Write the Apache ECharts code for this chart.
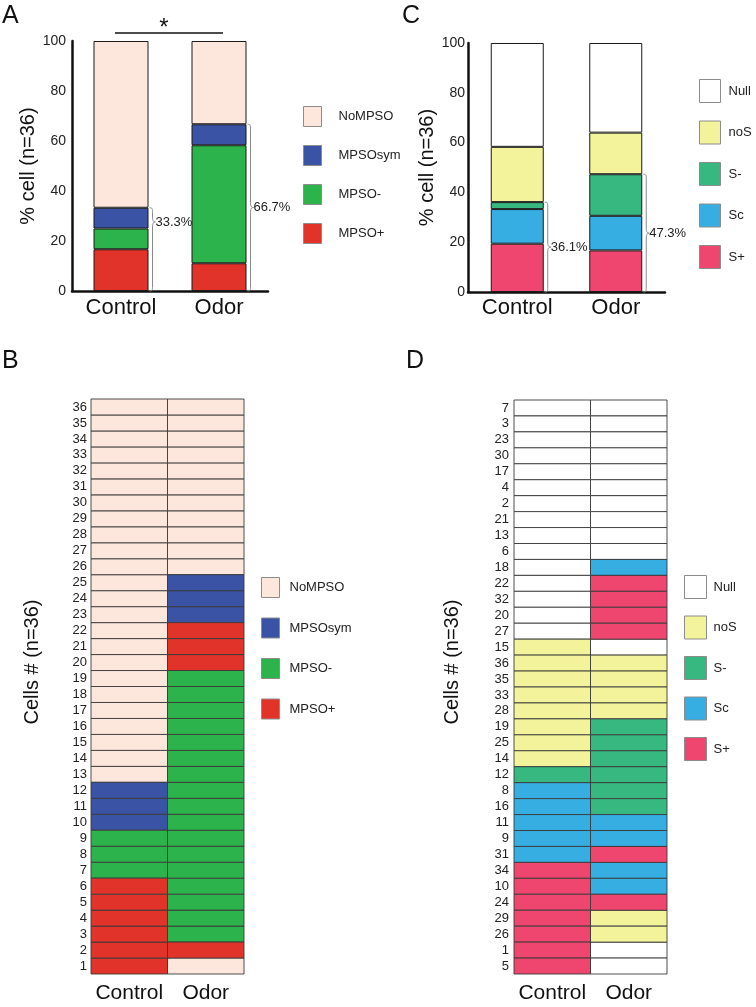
<!DOCTYPE html>
<html><head><meta charset="utf-8">
<script src="https://cdn.jsdelivr.net/npm/echarts@6/dist/echarts.min.js"></script>
<style>html,body{margin:0;padding:0;background:#fff}#c{width:756px;height:1007px}</style>
</head><body><div id="c"></div>
<script>
// ---------- DATA ----------
const groups = ['Control', 'Odor'];

// Panel A (stack order bottom -> top)
const catsA = ['MPSO+', 'MPSO-', 'MPSOsym', 'NoMPSO'];
const colorsA = ['#E2332A', '#2DB34B', '#3A53A5', '#FDE6DC'];
const pctA_control = [16.7, 8.3, 8.3, 66.7];
const pctA_odor = [11.1, 47.2, 8.4, 33.3];
const braceA_top = [33.3, 66.7];
const braceA_tip = [27.6, 33.4];
const braceA_labels = ['33.3%', '66.7%'];
const legendA = ['NoMPSO', 'MPSOsym', 'MPSO-', 'MPSO+'];

// Panel C (stack order bottom -> top)
const catsC = ['S+', 'Sc', 'S-', 'noS', 'Null'];
const colorsC = ['#EE466E', '#36AEE2', '#36B880', '#F3F39B', '#FFFFFF'];
const pctC_control = [19.4, 13.9, 2.8, 22.2, 41.7];
const pctC_odor = [16.7, 13.9, 16.7, 16.7, 36.0];
const braceC_top = [36.1, 47.3];
const braceC_tip = [18.05, 23.65];
const braceC_labels = ['36.1%', '47.3%'];
const legendC = ['Null', 'noS', 'S-', 'Sc', 'S+'];

// Panel B: cells 1..36 (bottom -> top)
const cellsB = ['1','2','3','4','5','6','7','8','9','10','11','12','13','14','15','16','17','18',
  '19','20','21','22','23','24','25','26','27','28','29','30','31','32','33','34','35','36'];
const B_control = ['MPSO+','MPSO+','MPSO+','MPSO+','MPSO+','MPSO+','MPSO-','MPSO-','MPSO-',
  'MPSOsym','MPSOsym','MPSOsym','NoMPSO','NoMPSO','NoMPSO','NoMPSO','NoMPSO','NoMPSO',
  'NoMPSO','NoMPSO','NoMPSO','NoMPSO','NoMPSO','NoMPSO','NoMPSO','NoMPSO','NoMPSO',
  'NoMPSO','NoMPSO','NoMPSO','NoMPSO','NoMPSO','NoMPSO','NoMPSO','NoMPSO','NoMPSO'];
const B_odor = ['NoMPSO','MPSO+','MPSO-','MPSO-','MPSO-','MPSO-','MPSO-','MPSO-','MPSO-',
  'MPSO-','MPSO-','MPSO-','MPSO-','MPSO-','MPSO-','MPSO-','MPSO-','MPSO-','MPSO-',
  'MPSO+','MPSO+','MPSO+','MPSOsym','MPSOsym','MPSOsym','NoMPSO','NoMPSO','NoMPSO',
  'NoMPSO','NoMPSO','NoMPSO','NoMPSO','NoMPSO','NoMPSO','NoMPSO','NoMPSO'];

// Panel D: rows top -> bottom
const cellsD = ['7','3','23','30','17','4','2','21','13','6','18','22','32','20','27','15','36','35',
  '33','28','19','25','14','12','8','16','11','9','31','34','10','24','29','26','1','5'];
const D_control = ['Null','Null','Null','Null','Null','Null','Null','Null','Null','Null','Null',
  'Null','Null','Null','Null','noS','noS','noS','noS','noS','noS','noS','noS','S-',
  'Sc','Sc','Sc','Sc','Sc','S+','S+','S+','S+','S+','S+','S+'];
const D_odor = ['Null','Null','Null','Null','Null','Null','Null','Null','Null','Null','Sc',
  'S+','S+','S+','S+','Null','noS','noS','noS','noS','S-','S-','S-','S-','S-','S-',
  'Sc','Sc','S+','Sc','Sc','S+','noS','noS','Null','Null'];

// ---------- CHART ----------
const FONT = '"Liberation Sans", Arial, Helvetica, sans-serif';
const chart = echarts.init(document.getElementById('c'));

function braceRender(barW, labels) {
  return function (params, api) {
    const c = api.value(0), top = api.value(1), tip = api.value(2);
    const pT = api.coord([c, top]), pB = api.coord([c, 0]), pM = api.coord([c, tip]);
    const x0 = pT[0] + barW / 2 + 1;
    const yT = pT[1], yB = pB[1], yM = pM[1];
    const d = 'M' + x0 + ' ' + yT +
      ' C' + (x0 + 3) + ' ' + yT + ' ' + (x0 + 3) + ' ' + (yT + 1) + ' ' + (x0 + 3) + ' ' + (yT + 5) +
      ' L' + (x0 + 3) + ' ' + (yM - 5) +
      ' C' + (x0 + 3) + ' ' + (yM - 1) + ' ' + (x0 + 4) + ' ' + yM + ' ' + (x0 + 6) + ' ' + yM +
      ' C' + (x0 + 4) + ' ' + yM + ' ' + (x0 + 3) + ' ' + (yM + 1) + ' ' + (x0 + 3) + ' ' + (yM + 5) +
      ' L' + (x0 + 3) + ' ' + (yB - 5) +
      ' C' + (x0 + 3) + ' ' + (yB - 1) + ' ' + (x0 + 3) + ' ' + yB + ' ' + x0 + ' ' + yB;
    return {
      type: 'group', children: [
        { type: 'path', shape: { pathData: d }, style: { stroke: '#8a8a8a', fill: 'none', lineWidth: 1 } },
        { type: 'text', x: x0 + 6, y: yM, style: { text: labels[params.dataIndex], fill: '#222', font: '13px ' + FONT, align: 'left', verticalAlign: 'middle' } }
      ]
    };
  };
}

function cellRender(params, api) {
  const p = api.coord([api.value(0), api.value(1)]);
  const s = api.size([1, 1]);
  return {
    type: 'rect',
    shape: { x: p[0] - s[0] / 2, y: p[1] - s[1] / 2, width: s[0], height: s[1] },
    style: { fill: api.visual('color'), stroke: '#3a3a3a', lineWidth: 0.9 }
  };
}

function cellSeries(names, colors, cols, gi) {
  return names.map(function (nm, k) {
    const data = [];
    cols.forEach(function (arr, ci) {
      arr.forEach(function (v, ri) { if (v === nm) data.push([ci, ri]); });
    });
    return {
      type: 'custom', name: nm, xAxisIndex: gi, yAxisIndex: gi, clip: false,
      itemStyle: { color: colors[k] }, data: data, renderItem: cellRender
    };
  });
}

function barSeries(names, colors, a, b, stack, gi, w) {
  return names.map(function (nm, i) {
    return {
      type: 'bar', name: nm, stack: stack, xAxisIndex: gi, yAxisIndex: gi, barWidth: w,
      data: [a[i], b[i]],
      itemStyle: { color: colors[i], borderColor: '#1a1a1a', borderWidth: 1 }
    };
  });
}

const valueY = function (gi, gap) {
  return {
    type: 'value', gridIndex: gi, min: 0, max: 100, interval: 20,
    axisLine: { show: true, lineStyle: { color: '#111', width: 2.5 } },
    axisTick: { show: false }, splitLine: { show: false },
    axisLabel: { fontSize: 14, color: '#222', margin: gi === 0 ? 6 : 3 },
    name: '% cell (n=36)', nameLocation: 'middle', nameGap: gap,
    nameTextStyle: { fontSize: 20, color: '#111' }
  };
};
const catX = function (gi, fs, margin, line) {
  return {
    type: 'category', gridIndex: gi, data: groups,
    axisLine: { show: line, lineStyle: { color: '#111', width: 2.5 } },
    axisTick: { show: false },
    axisLabel: { interval: 0, hideOverlap: false, fontSize: fs, color: '#111', margin: margin }
  };
};
const cellY = function (gi, cats, inv, margin) {
  return {
    type: 'category', gridIndex: gi, data: cats, inverse: inv,
    axisLine: { show: false }, axisTick: { show: false },
    axisLabel: { interval: 0, fontSize: 13, color: '#222', margin: margin }
  };
};
const legendBase = function (names, left, top, w, h, gap, pad) {
  return {
    orient: 'vertical', left: left, top: top, itemWidth: w, itemHeight: h, itemGap: gap,
    padding: 0, icon: 'rect', data: names, selectedMode: false,
    itemStyle: { borderColor: '#8c8c8c', borderWidth: 1 },
    textStyle: { fontSize: 13, color: '#222', padding: [0, 0, 0, pad] }
  };
};

const option = {
  animation: false,
  backgroundColor: '#fff',
  textStyle: { fontFamily: FONT },
  grid: [
    { left: 72, top: 41, width: 196, height: 250 },
    { left: 468, top: 43, width: 197, height: 249 },
    { left: 91, top: 399, width: 153, height: 575 },
    { left: 514, top: 400, width: 153, height: 574 }
  ],
  xAxis: [catX(0, 22, 6, true), catX(1, 22, 5, true), catX(2, 21, 9, false), catX(3, 21, 9, false)],
  yAxis: [valueY(0, 25), valueY(1, 23), cellY(2, cellsB, false, 4), cellY(3, cellsD, true, 5)],
  legend: [
    legendBase(legendA, 303, 106, 18, 20, 18, 12),
    legendBase(legendC, 699, 79, 21, 23, 17.5, 3),
    legendBase(legendA, 261, 577, 18, 20, 19.5, 5),
    legendBase(legendC, 684, 575, 22, 23, 16.5, 2)
  ],
  series: [].concat(
    barSeries(catsA, colorsA, pctA_control, pctA_odor, 'A', 0, 55),
    barSeries(catsC, colorsC, pctC_control, pctC_odor, 'C', 1, 53),
    [{
      type: 'custom', name: 'braceA', xAxisIndex: 0, yAxisIndex: 0, clip: false, silent: true,
      data: [[0, braceA_top[0], braceA_tip[0]], [1, braceA_top[1], braceA_tip[1]]],
      renderItem: braceRender(55, braceA_labels)
    }, {
      type: 'custom', name: 'braceC', xAxisIndex: 1, yAxisIndex: 1, clip: false, silent: true,
      data: [[0, braceC_top[0], braceC_tip[0]], [1, braceC_top[1], braceC_tip[1]]],
      renderItem: braceRender(53, braceC_labels)
    }],
    cellSeries(legendA, ['#FDE6DC', '#3A53A5', '#2DB34B', '#E2332A'], [B_control, B_odor], 2),
    cellSeries(legendC, ['#FFFFFF', '#F3F39B', '#36B880', '#36AEE2', '#EE466E'], [D_control, D_odor], 3)
  ),
  graphic: [
    { type: 'text', x: 2, y: 16, style: { text: 'A', font: '25px ' + FONT, fill: '#111', verticalAlign: 'middle' } },
    { type: 'text', x: 402, y: 16, style: { text: 'C', font: '25px ' + FONT, fill: '#111', verticalAlign: 'middle' } },
    { type: 'text', x: 2, y: 361, style: { text: 'B', font: '25px ' + FONT, fill: '#111', verticalAlign: 'middle' } },
    { type: 'text', x: 406, y: 361, style: { text: 'D', font: '25px ' + FONT, fill: '#111', verticalAlign: 'middle' } },
    { type: 'line', shape: { x1: 115, y1: 33, x2: 223, y2: 33 }, style: { stroke: '#111', lineWidth: 1.5 } },
    { type: 'text', x: 164, y: 28, style: { text: '*', font: '24px ' + FONT, fill: '#111', align: 'center', verticalAlign: 'middle' } },
    { type: 'text', x: 32, y: 662, rotation: Math.PI / 2, style: { text: 'Cells # (n=36)', font: '20px ' + FONT, fill: '#111', align: 'center', verticalAlign: 'middle' } },
    { type: 'text', x: 452, y: 662, rotation: Math.PI / 2, style: { text: 'Cells # (n=36)', font: '20px ' + FONT, fill: '#111', align: 'center', verticalAlign: 'middle' } }
  ]
};
chart.setOption(option);
</script>
</body></html>
